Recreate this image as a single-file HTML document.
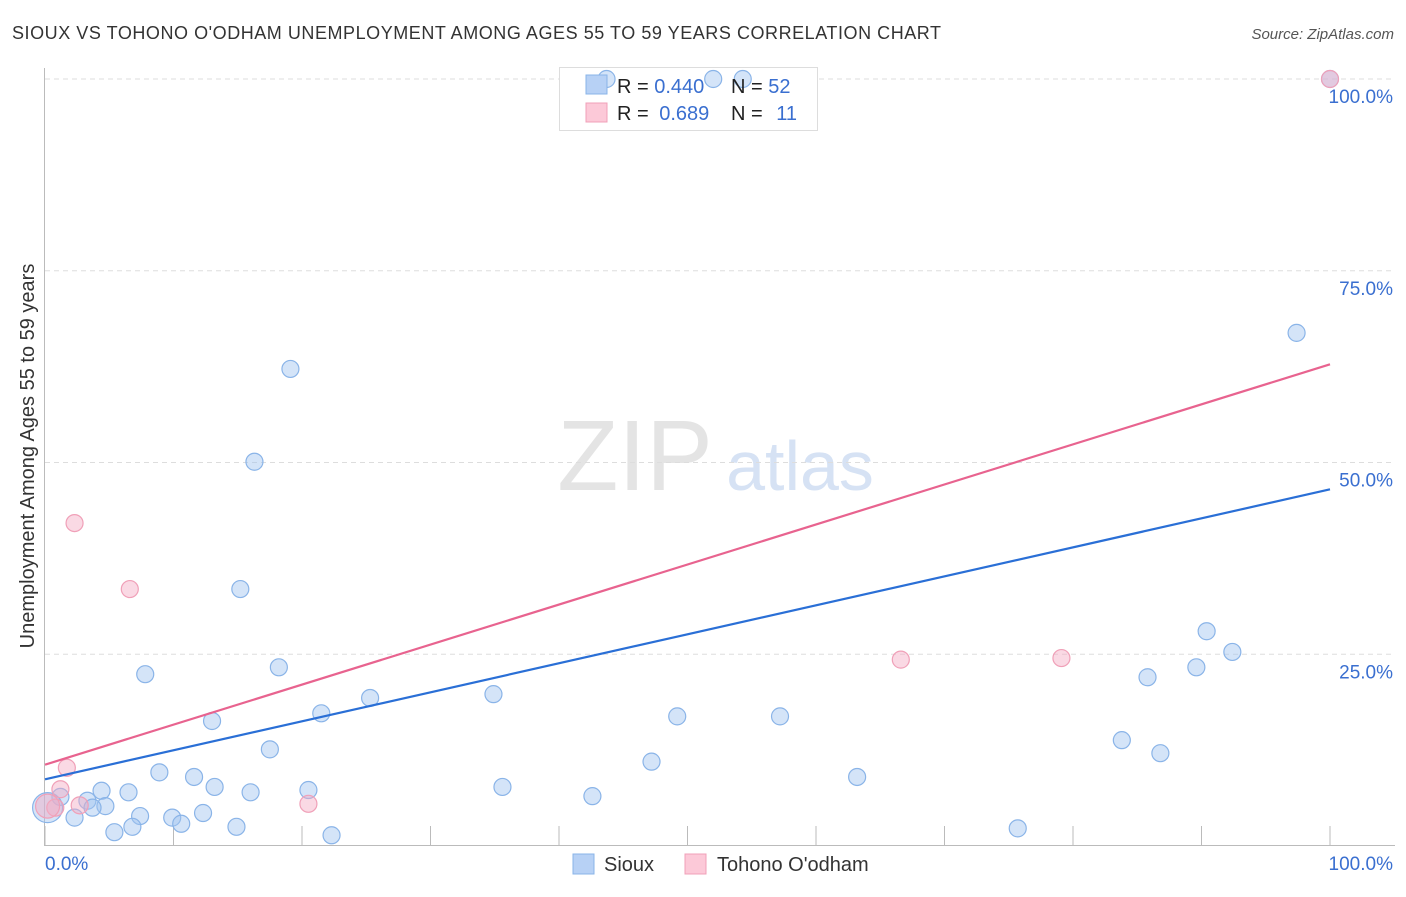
<!DOCTYPE html>
<html><head><meta charset="utf-8"><style>
body{margin:0;background:#fff;font-family:"Liberation Sans",sans-serif}
svg text{font-family:"Liberation Sans",sans-serif}
</style></head><body>
<svg id="c" width="1406" height="892">
<text x="12" y="39" font-size="18" textLength="929" fill="#333">SIOUX VS TOHONO O'ODHAM UNEMPLOYMENT AMONG AGES 55 TO 59 YEARS CORRELATION CHART</text>
<text x="1394" y="39" font-size="15" fill="#555" font-style="italic" text-anchor="end">Source: ZipAtlas.com</text>
<g><text x="635" y="490" font-size="100" font-family="Liberation Serif" fill="#e4e4e4" text-anchor="middle">ZIP</text><text x="800" y="490" font-size="70" fill="#d6e2f4" text-anchor="middle">atlas</text></g>
<g id="grid"></g>
<line x1="44.5" y1="68" x2="44.5" y2="846" stroke="#bbb"/>
<line x1="44" y1="845.5" x2="1395" y2="845.5" stroke="#bbb"/>
<g id="ticks"></g>
<text transform="translate(34,456) rotate(-90)" font-size="20" fill="#333" text-anchor="middle">Unemployment Among Ages 55 to 59 years</text>
<text x="45" y="870" font-size="19" fill="#3a6fd0">0.0%</text>
<text x="1393" y="870" font-size="19" fill="#3a6fd0" text-anchor="end">100.0%</text>
<g>
<rect x="559.5" y="67.5" width="258" height="63" fill="#fff" stroke="#ddd"/>
</g>
<g id="pts"></g>
<g id="lines"></g>
<g>
<rect x="586" y="75" width="21" height="19" fill="#b7d1f5" stroke="#8ab4e8"/>
<rect x="586" y="103" width="21" height="19" fill="#fcc9d8" stroke="#f0a0b8"/>
<text x="617" y="93" font-size="20" fill="#222">R = <tspan fill="#3a6fd0">0.440</tspan></text>
<text x="731" y="93" font-size="20" fill="#222">N = <tspan fill="#3a6fd0">52</tspan></text>
<text x="617" y="120" font-size="20" fill="#222">R = <tspan fill="#3a6fd0" dx="5">0.689</tspan></text>
<text x="731" y="120" font-size="20" fill="#222">N = <tspan fill="#3a6fd0" dx="8">11</tspan></text>
</g>
<g>
<rect x="573" y="854" width="21" height="20" fill="#b7d1f5" stroke="#8ab4e8"/>
<text x="604" y="871" font-size="20" fill="#333">Sioux</text>
<rect x="685" y="854" width="21" height="20" fill="#fcc9d8" stroke="#f0a0b8"/>
<text x="717" y="871" font-size="20" fill="#333">Tohono O'odham</text>
</g>
</svg>
<script>
const yTicks=[25,50,75,100];
const yTickLabels=["25.0%","50.0%","75.0%","100.0%"];
const xTicks=[0,10,20,30,40,50,60,70,80,90,100];
const siouxX=[43.7,52.0,54.3,100,97.4,19.1,16.3,15.2,7.8,18.2,13.0,21.5,25.3,34.9,49.2,57.2,90.4,92.4,89.6,85.8,83.8,86.8,17.5,8.9,11.6,13.2,16.0,20.5,35.6,42.6,47.2,63.2,75.7,6.5,4.4,3.3,4.7,3.7,1.2,2.3,7.4,9.9,10.6,12.3,14.9,5.4,6.8,22.3,0.2];
const siouxY=[100,100,100,100,66.9,62.2,50.1,33.5,22.4,23.3,16.3,17.3,19.3,19.8,16.9,16.9,28.0,25.3,23.3,22.0,13.8,12.1,12.6,9.6,9.0,7.7,7.0,7.3,7.7,6.5,11.0,9.0,2.3,7.0,7.2,5.9,5.2,5.0,6.4,3.7,3.9,3.7,2.9,4.3,2.5,1.8,2.5,1.4,5.0];
const tohonoX=[2.3,6.6,1.7,1.2,0.8,2.7,20.5,66.6,79.1,100,0.2];
const tohonoY=[42.1,33.5,10.2,7.4,5.0,5.3,5.5,24.3,24.5,100,5.2];
const siouxFit=[8.7,46.5];
const tohonoFit=[10.6,62.8];
const X=v=>45+v*12.85, Y=v=>846-v*7.67;
const NS="http://www.w3.org/2000/svg";
function mk(p,t,a){const e=document.createElementNS(NS,t);for(const k in a)e.setAttribute(k,a[k]);document.getElementById(p).appendChild(e);return e;}
yTicks.forEach((t,i)=>{
 const l=mk('grid','line',{x1:45,x2:1395,y1:Y(t),y2:Y(t),stroke:'#ddd','stroke-dasharray':'5,4'});
 
 
 const tx=mk('grid','text',{x:1393,y:Y(t)+24,'font-size':19,fill:'#3a6fd0','text-anchor':'end'});
 tx.textContent=yTickLabels[i];
 
 
});
xTicks.forEach(t=>{
 const l=mk('ticks','line',{x1:X(t),x2:X(t),y1:826,y2:846,stroke:'#bbb'});
 
 
});
siouxX.forEach((v,i)=>{
 const c=mk('pts','circle',{cx:X(v),cy:Y(siouxY[i]),r:i==siouxX.length-1?15:8.5,fill:'rgba(160,196,240,0.45)',stroke:'#8ab4e8','stroke-width':1.2});
 
 
});
tohonoX.forEach((v,i)=>{
 const c=mk('pts','circle',{cx:X(v),cy:Y(tohonoY[i]),r:i==tohonoX.length-1?12:8.5,fill:'rgba(245,170,195,0.45)',stroke:'#f0a0b8','stroke-width':1.2});
 
 
});
const b=mk('lines','line',{x1:X(0),y1:Y(siouxFit[0]),x2:X(100),y2:Y(siouxFit[1]),stroke:'#2a6fd6','stroke-width':2.2});


const p=mk('lines','line',{x1:X(0),y1:Y(tohonoFit[0]),x2:X(100),y2:Y(tohonoFit[1]),stroke:'#e8638f','stroke-width':2.2});


</script>
</body></html>
